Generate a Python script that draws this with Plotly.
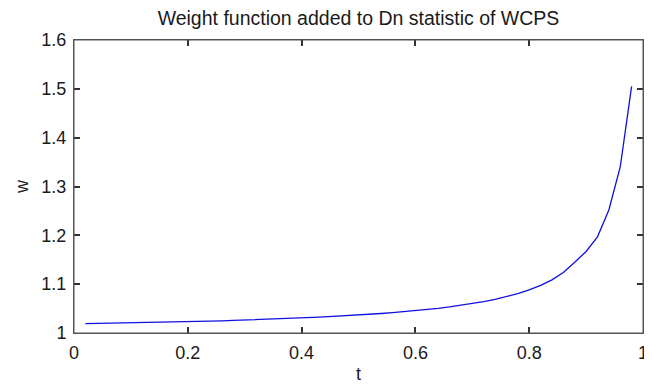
import plotly.graph_objects as go

t_vals = [0.02, 0.04, 0.06, 0.08, 0.10, 0.12, 0.14, 0.16, 0.18, 0.20,
          0.22, 0.24, 0.26, 0.28, 0.30, 0.32, 0.34, 0.36, 0.38, 0.40,
          0.42, 0.44, 0.46, 0.48, 0.50, 0.52, 0.54, 0.56, 0.58, 0.60,
          0.62, 0.64, 0.66, 0.68, 0.70, 0.72, 0.74, 0.76, 0.78, 0.80,
          0.82, 0.84, 0.86, 0.88, 0.90, 0.92, 0.94, 0.96, 0.98]
w_vals = [1.0190, 1.0194, 1.0198, 1.0202, 1.0207, 1.0212, 1.0217, 1.0222, 1.0227, 1.0232,
          1.0238, 1.0244, 1.0250, 1.0257, 1.0264, 1.0272, 1.0280, 1.0289, 1.0298, 1.0308,
          1.0318, 1.0329, 1.0341, 1.0354, 1.0368, 1.0383, 1.0399, 1.0417, 1.0436, 1.0457,
          1.0480, 1.0505, 1.0533, 1.0564, 1.0600, 1.0641, 1.0688, 1.0742, 1.0806, 1.0883,
          1.0975, 1.1088, 1.1240, 1.1450, 1.1670, 1.1970, 1.2520, 1.3400, 1.5050]

x_ticks = [0, 0.2, 0.4, 0.6, 0.8, 1]
x_tick_labels = ["0", "0.2", "0.4", "0.6", "0.8", "1"]
y_ticks = [1, 1.1, 1.2, 1.3, 1.4, 1.5, 1.6]
y_tick_labels = ["1", "1.1", "1.2", "1.3", "1.4", "1.5", "1.6"]

fig = go.Figure()
fig.add_trace(go.Scatter(x=t_vals, y=w_vals, mode="lines",
                         line=dict(color="#1010e0", width=1.3),
                         showlegend=False, hoverinfo="x+y"))

font = "Liberation Sans, Arial, sans-serif"
axis_common = dict(showline=True, linecolor="#555555", linewidth=1, mirror="ticks",
                   ticks="inside", ticklen=6, tickwidth=1.5, tickcolor="#333333",
                   showgrid=False, zeroline=False, automargin=False,
                   tickfont=dict(family=font, size=18, color="#1a1a1a"))

# page body has an 8px margin: the figure is shifted so the axes land where the reference has them
fig.update_layout(
    width=644, height=377,
    margin=dict(l=66, r=9, t=32, b=52),
    paper_bgcolor="white", plot_bgcolor="white",
    title=dict(text="Weight function added to Dn statistic of WCPS",
               x=(66 + 635) / 2 / 644, xanchor="center", y=1 - 10 / 377, yanchor="middle",
               font=dict(family=font, size=19.5, color="#1a1a1a")),
    xaxis=dict(range=[0, 1], tickvals=x_ticks, ticktext=x_tick_labels,
               title=dict(text="t", font=dict(family=font, size=18, color="#1a1a1a"), standoff=5),
               ticklabelstandoff=3,
               **axis_common),
    yaxis=dict(range=[1, 1.6], tickvals=y_ticks, ticktext=y_tick_labels,
               title=dict(text="w", font=dict(family=font, size=18, color="#1a1a1a"), standoff=8),
               ticklabelstandoff=3,
               **axis_common),
    shapes=[dict(type="rect", xref="paper", yref="paper", x0=0, x1=1, y0=0, y1=1,
                 line=dict(color="#555555", width=1), layer="above")],
)

fig.write_html("out.html")
